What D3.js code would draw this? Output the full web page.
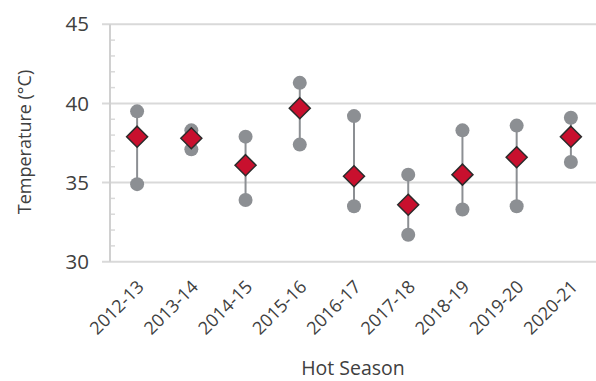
<!DOCTYPE html>
<html><head><meta charset="utf-8">
<script src="https://cdn.jsdelivr.net/npm/d3@7"></script>
<style>body{margin:0;background:#fff}svg{display:block}</style>
</head><body>
<script>
const seasons = ["2012-13","2013-14","2014-15","2015-16","2016-17","2017-18","2018-19","2019-20","2020-21"];
const maxTemp = [39.5, 38.3, 37.9, 41.3, 39.2, 35.5, 38.3, 38.6, 39.1];
const meanTemp = [37.9, 37.8, 36.1, 39.7, 35.4, 33.6, 35.5, 36.6, 37.9];
const minTemp = [34.9, 37.1, 33.9, 37.4, 33.5, 31.7, 33.3, 33.5, 36.3];
const yTicks = [30, 35, 40, 45];
const yMinor = d3.range(30, 46, 1);

const W = 596, H = 381;
const svg = d3.select("body").append("svg").attr("width", W).attr("height", H);
const font = "'Open Sans', 'Noto Sans', sans-serif";
const textCol = "#404040";

const x = d3.scaleBand().domain(seasons).range([110, 598]);
const y = d3.scaleLinear().domain([30, 45]).range([261.7, 24.3]);

// gridlines
svg.append("g").selectAll("line").data(yTicks).join("line")
  .attr("x1", 102).attr("x2", W).attr("y1", d => y(d)).attr("y2", d => y(d))
  .attr("stroke", "#d9d9d9").attr("stroke-width", 2);
// minor ticks
svg.append("g").selectAll("line").data(yMinor.filter(d => d % 5 !== 0)).join("line")
  .attr("x1", 110).attr("x2", 115).attr("y1", d => y(d)).attr("y2", d => y(d))
  .attr("stroke", "#d9d9d9").attr("stroke-width", 1.5);
// axis line
svg.append("line").attr("x1", 110).attr("x2", 110).attr("y1", y(45)).attr("y2", y(30))
  .attr("stroke", "#d0d0d0").attr("stroke-width", 2);

// y labels
svg.append("g").selectAll("text").data(yTicks).join("text")
  .attr("x", 89).attr("y", d => y(d)).attr("dy", "0.35em")
  .attr("text-anchor", "end").attr("font-family", font).attr("font-size", 20.5)
  .attr("fill", textCol).text(d => d);

// y title
svg.append("text").attr("transform", `translate(31,${142}) rotate(-90)`)
  .attr("text-anchor", "middle").attr("font-family", font).attr("font-size", 18)
  .attr("fill", textCol).text("Temperature (°C)");

// x labels
svg.append("g").selectAll("text").data(seasons).join("text")
  .attr("transform", d => `translate(${x(d) + x.bandwidth()/2 + 8},${288}) rotate(-45)`)
  .attr("text-anchor", "end").attr("font-family", font).attr("font-size", 18)
  .attr("fill", textCol).text(d => d);

// x title
svg.append("text").attr("x", 353).attr("y", 375)
  .attr("text-anchor", "middle").attr("font-family", font).attr("font-size", 19.5)
  .attr("fill", textCol).text("Hot Season");

const cx = d => x(d) + x.bandwidth()/2;
const g = svg.append("g");
g.selectAll("line.rng").data(seasons).join("line").attr("class", "rng")
  .attr("x1", cx).attr("x2", cx)
  .attr("y1", (d, i) => y(maxTemp[i])).attr("y2", (d, i) => y(minTemp[i]))
  .attr("stroke", "#8c8f93").attr("stroke-width", 2);
g.selectAll("circle.mx").data(seasons).join("circle").attr("class", "mx")
  .attr("cx", cx).attr("cy", (d, i) => y(maxTemp[i])).attr("r", 7).attr("fill", "#8c8f93");
g.selectAll("circle.mn").data(seasons).join("circle").attr("class", "mn")
  .attr("cx", cx).attr("cy", (d, i) => y(minTemp[i])).attr("r", 7).attr("fill", "#8c8f93");
const dsz = 10.5;
g.selectAll("path.dm").data(seasons).join("path").attr("class", "dm")
  .attr("d", (d, i) => {
    const px = cx(d), py = y(meanTemp[i]);
    return `M${px},${py - dsz}L${px + dsz},${py}L${px},${py + dsz}L${px - dsz},${py}Z`;
  })
  .attr("fill", "#c8102e").attr("stroke", "#2b2b2b").attr("stroke-width", 1.5);
</script>
</body></html>
